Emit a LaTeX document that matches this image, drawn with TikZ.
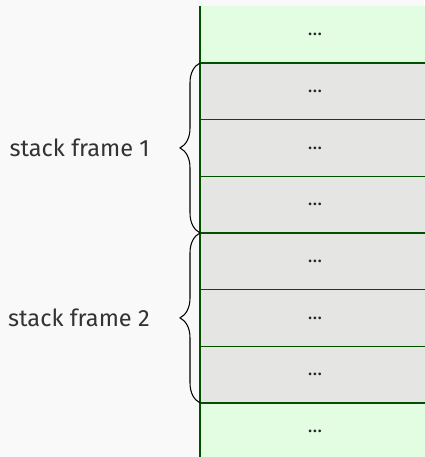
\documentclass[tikz,border=0pt]{standalone}
\usepackage{fontspec}
\setmainfont{Fira Sans}
\usetikzlibrary{positioning,decorations.pathreplacing}
\definecolor{pagebg}{HTML}{F9F9F9}
\definecolor{cellgreen}{HTML}{E2FDE2}
\definecolor{cellgray}{HTML}{E5E6E3}
\definecolor{ruleline}{HTML}{005000}
\definecolor{labeltext}{HTML}{333333}
\tikzset{
  cell/.style={minimum width=4.6cm, minimum height=1.1333cm, inner sep=0pt, outer sep=0pt, font=\fontsize{11}{12}\selectfont, text=black!85},
  rule/.style={draw=ruleline, line width=0.8pt},
  framebrace/.style={decorate, decoration={brace, amplitude=0.4cm}, line width=0.6pt},
  framelabel/.style={inner sep=0pt, text=labeltext, font=\fontsize{13.4}{15}\selectfont}
}

\begin{document}
\begin{tikzpicture}[x=0.02cm, y=-0.02cm, node distance=0pt]
      \fill[pagebg] (0, 0) rectangle (424, 457);
      \useasboundingbox (0, 0) rectangle (424, 457);

      % the stack, top to bottom
      \node[cell, fill=cellgreen, anchor=north west] (c0) at (200, 6.3) {…};
      \node[cell, fill=cellgray, below=of c0] (c1) {…};
      \node[cell, fill=cellgray, below=of c1] (c2) {…};
      \node[cell, fill=cellgray, below=of c2] (c3) {…};
      \node[cell, fill=cellgray, below=of c3] (c4) {…};
      \node[cell, fill=cellgray, below=of c4] (c5) {…};
      \node[cell, fill=cellgray, below=of c5] (c6) {…};
      \node[cell, fill=cellgreen, below=of c6] (c7) {…};

      \draw[rule] (c0.north west) -- (c7.south west);
      \draw[rule] (c1.north west) -- (c1.north east);
      \draw[rule] (c2.north west) -- (c2.north east);
      \draw[rule] (c3.north west) -- (c3.north east);
      \draw[rule] (c4.north west) -- (c4.north east);
      \draw[rule] (c5.north west) -- (c5.north east);
      \draw[rule] (c6.north west) -- (c6.north east);
      \draw[rule] (c7.north west) -- (c7.north east);

      % frames
      \draw[framebrace] (c3.south west) -- (c1.north west);
      \draw[framebrace] (c6.south west) -- (c4.north west);

      \node[framelabel, left=1.0cm of c2.west] (frame1) {stack frame 1};
      \node[framelabel, left=1.0cm of c5.west] (frame2) {stack frame 2};
    \end{tikzpicture}
\end{document}
